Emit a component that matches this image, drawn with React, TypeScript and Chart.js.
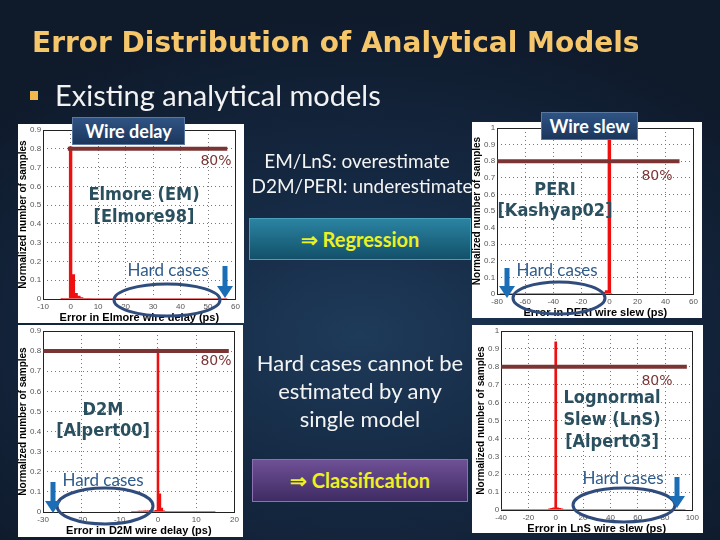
import React, { useEffect, useRef } from "react";
import Chart from "chart.js/auto";

// ---------- data ----------
// Elmore (EM) wire delay error histogram (ps, normalized)
const emBins = [-3, -2, -1, 0, 1, 2, 3, 4, 5, 6, 7];
const emValues = [0.002, 0.003, 0.004, 0.81, 0.13, 0.03, 0.015, 0.008, 0.004, 0.003, 0.002];
const emTail = [-3, 57];
const emLine80 = [-1, 57];

// PERI wire slew error histogram
const periBins = [-12, -10, -8, -6, -4, -2, 0];
const periValues = [0.002, 0.003, 0.004, 0.006, 0.01, 0.02, 0.93];
const periTail = [-78, 2];
const periLine80 = [-80, 50];

// D2M wire delay error histogram
const d2mBins = [-5, -4.5, -4, -3.5, -3, -2.5, -2, -1.5, -1, -0.5, 0, 0.5, 1, 1.5, 2];
const d2mValues = [0.004, 0.005, 0.005, 0.006, 0.006, 0.006, 0.007, 0.006, 0.006, 0.008, 0.81, 0.09, 0.02, 0.006, 0.003];
const d2mTail = [-7, 15];
const d2mLine80 = [-30, 18.5];

// Lognormal Slew (LnS) error histogram
const lnsBins = [-4.5, -3, -1.5, 0, 1.5, 3, 4.5];
const lnsValues = [0.006, 0.01, 0.012, 0.94, 0.012, 0.01, 0.006];
const lnsTail = [-40, 95];
const lnsLine80 = [-40, 96];

const threshold = 0.8;

// ---------- chart ----------
type PlotProps = {
  left: number; top: number; width: number; height: number;
  bins: number[]; values: number[]; tail: number[]; line80: number[];
  xMin: number; xMax: number; xStep: number; yMax: number;
  xTitle: string; pad: { left: number; right: number; top: number; bottom: number };
};

const framePlugin = {
  id: "frame",
  beforeDatasetsDraw(chart: any) {
    const { ctx, chartArea: a } = chart;
    ctx.save();
    ctx.strokeStyle = "#222";
    ctx.lineWidth = 1;
    ctx.strokeRect(Math.round(a.left) + 0.5, Math.round(a.top) + 0.5, Math.round(a.right - a.left), Math.round(a.bottom - a.top));
    ctx.restore();
  },
};

function fmt(v: number) {
  return String(Number(v.toFixed(1)));
}

function Plot(p: PlotProps) {
  const ref = useRef<HTMLCanvasElement>(null);
  useEffect(() => {
    const tickFont = { family: "Liberation Sans, Arial, sans-serif", size: 8, lineHeight: 1 };
    const titleFont = { family: "Liberation Sans, Arial, sans-serif", size: 11, weight: "bold" as const, lineHeight: 1 };
    const chart = new Chart(ref.current!, {
      type: "bar",
      data: {
        datasets: [
          {
            type: "line",
            data: p.line80.map((x) => ({ x, y: threshold })),
            borderColor: "#7b3434",
            borderWidth: 4,
            pointRadius: 0,
            order: 0,
          } as any,
          {
            type: "line",
            data: p.tail.map((x) => ({ x, y: 0.002 })),
            borderColor: "#e07070",
            borderWidth: 1,
            pointRadius: 0,
            order: 1,
          } as any,
          {
            type: "bar",
            data: p.bins.map((x, i) => ({ x, y: p.values[i] })),
            backgroundColor: "#ee1010",
            barPercentage: 1,
            categoryPercentage: 1,
            order: 2,
          } as any,
        ],
      },
      options: {
        animation: false,
        responsive: false,
        maintainAspectRatio: false,
        layout: { padding: p.pad },
        plugins: { legend: { display: false }, tooltip: { enabled: false } },
        scales: {
          x: {
            type: "linear",
            offset: false,
            min: p.xMin,
            max: p.xMax,
            ticks: { stepSize: p.xStep, font: tickFont, color: "#555", maxRotation: 0, autoSkip: false, padding: 4, callback: (v: any) => fmt(v) },
            grid: { color: "#777", drawTicks: false, offset: false },
            border: { display: false, dash: [1, 3] },
            title: { display: true, text: p.xTitle, font: titleFont, color: "#000", padding: { top: -3, bottom: 0 } },
          },
          y: {
            min: 0,
            max: p.yMax,
            ticks: { stepSize: 0.1, font: tickFont, color: "#555", padding: 2, callback: (v: any) => fmt(v) },
            grid: { color: "#777", drawTicks: false },
            border: { display: false, dash: [1, 3] },
            title: { display: true, text: "Normalized number of samples", font: { ...titleFont, size: 10 }, color: "#000", padding: { top: 0, bottom: 0 } },
          },
        },
      },
      plugins: [framePlugin],
    });
    return () => chart.destroy();
  }, []);
  return (
    <div style={{ position: "absolute", left: p.left, top: p.top, width: p.width, height: p.height, background: "#fff" }}>
      <canvas ref={ref} width={p.width} height={p.height} style={{ display: "block" }} />
    </div>
  );
}

// ---------- text helpers ----------
const LATO = "Lato, 'Open Sans', sans-serif";
const COND = "'DejaVu Sans Condensed', 'DejaVu Sans', sans-serif";

function T(props: { cx?: number; x?: number; cy: number; text: string; size: number; color: string; weight?: any; family?: string }) {
  const w = 400;
  const left = props.cx !== undefined ? props.cx - w / 2 : props.x!;
  return (
    <div
      style={{
        position: "absolute",
        left,
        top: props.cy - props.size * 0.6,
        width: props.cx !== undefined ? w : undefined,
        textAlign: props.cx !== undefined ? "center" : "left",
        whiteSpace: "nowrap",
        fontSize: props.size,
        lineHeight: props.size * 1.2 + "px",
        color: props.color,
        fontWeight: props.weight || "normal",
        fontFamily: props.family || LATO,
      }}
    >
      {props.text}
    </div>
  );
}

function Box(props: { left: number; top: number; w: number; h: number; bg: string; border: string; children: any }) {
  return (
    <div
      style={{
        position: "absolute", left: props.left, top: props.top, width: props.w, height: props.h,
        background: props.bg, border: "1px solid " + props.border, boxSizing: "border-box",
        display: "flex", alignItems: "center", justifyContent: "center",
      }}
    >
      {props.children}
    </div>
  );
}

const HARD = "#2e5b8c";
const TEAL = "#2a4f5e";
const BROWN = "#7b3434";

function Arrow({ x, y1, y2 }: { x: number; y1: number; y2: number }) {
  return (
    <g fill="#1b6db5">
      <rect x={x - 2.5} y={y1} width={5} height={y2 - y1 - 10} />
      <polygon points={`${x - 8},${y2 - 12} ${x + 8},${y2 - 12} ${x},${y2}`} />
    </g>
  );
}

export default function App() {
  return (
    <div
      style={{
        position: "fixed", left: 0, top: 0, width: 720, height: 540, overflow: "hidden",
        background: "radial-gradient(ellipse 70% 60% at 50% 62%, #1e3b5a 0%, #152943 45%, #0f1a2b 100%)",
        fontFamily: LATO,
      }}
    >
      <T x={32} cy={43} text="Error Distribution of Analytical Models" size={28} color="#f6c66b" weight="bold" family="'DejaVu Sans', sans-serif" />
      <div style={{ position: "absolute", left: 30, top: 91, width: 8, height: 9, background: "#f2b84c" }} />
      <T x={55} cy={95} text="Existing analytical models" size={29} color="#f2f2f2" />

      <Plot left={18} top={124} width={226} height={199} bins={emBins} values={emValues} tail={emTail} line80={emLine80}
        xMin={-10} xMax={60} xStep={10} yMax={0.9} xTitle="Error in Elmore wire delay (ps)" pad={{ left: 0, right: 0, top: 0, bottom: 0 }} />
      <Plot left={472} top={122} width={230} height={196} bins={periBins} values={periValues} tail={periTail} line80={periLine80}
        xMin={-80} xMax={60} xStep={20} yMax={1} xTitle="Error in PERI wire slew (ps)" pad={{ left: 0, right: 0, top: 6, bottom: 0 }} />
      <Plot left={18} top={325} width={225} height={212} bins={d2mBins} values={d2mValues} tail={d2mTail} line80={d2mLine80}
        xMin={-30} xMax={20} xStep={10} yMax={0.9} xTitle="Error in D2M wire delay (ps)" pad={{ left: 0, right: 5, top: 1, bottom: 1 }} />
      <Plot left={472} top={325} width={231} height={208} bins={lnsBins} values={lnsValues} tail={lnsTail} line80={lnsLine80}
        xMin={-40} xMax={100} xStep={20} yMax={1} xTitle="Error in LnS wire slew (ps)" pad={{ left: 4, right: 4, top: 3, bottom: -1 }} />

      <Box left={72} top={117} w={113} h={28} bg="linear-gradient(#2f5484, #1b365c)" border="#5a78a0">
        <span style={{ color: "#fff", fontWeight: "bold", fontSize: 18, fontFamily: LATO }}>Wire delay</span>
      </Box>
      <Box left={541} top={112} w={97} h={28} bg="linear-gradient(#2f5484, #1b365c)" border="#5a78a0">
        <span style={{ color: "#fff", fontWeight: "bold", fontSize: 18, fontFamily: LATO }}>Wire slew</span>
      </Box>

      <T cx={216} cy={160} text="80%" size={14} color={BROWN} family="'DejaVu Sans', sans-serif" />
      <T cx={657} cy={175} text="80%" size={14} color={BROWN} family="'DejaVu Sans', sans-serif" />
      <T cx={216} cy={360} text="80%" size={14} color={BROWN} family="'DejaVu Sans', sans-serif" />
      <T cx={657} cy={380} text="80%" size={14} color={BROWN} family="'DejaVu Sans', sans-serif" />

      <T cx={144} cy={194} text="Elmore (EM)" size={18} color={TEAL} weight="bold" family={COND} />
      <T cx={144} cy={216} text="[Elmore98]" size={18} color={TEAL} weight="bold" family={COND} />
      <T cx={555} cy={189} text="PERI" size={18} color={TEAL} weight="bold" family={COND} />
      <T cx={555} cy={210} text="[Kashyap02]" size={18} color={TEAL} weight="bold" family={COND} />
      <T cx={103} cy={409} text="D2M" size={18} color={TEAL} weight="bold" family={COND} />
      <T cx={103} cy={430} text="[Alpert00]" size={18} color={TEAL} weight="bold" family={COND} />
      <T cx={612} cy={397} text="Lognormal" size={18} color={TEAL} weight="bold" family={COND} />
      <T cx={612} cy={419} text="Slew (LnS)" size={18} color={TEAL} weight="bold" family={COND} />
      <T cx={612} cy={441} text="[Alpert03]" size={18} color={TEAL} weight="bold" family={COND} />

      <T cx={168} cy={270} text="Hard cases" size={17} color={HARD} />
      <T cx={557} cy={270} text="Hard cases" size={17} color={HARD} />
      <T cx={103} cy={480} text="Hard cases" size={17} color={HARD} />
      <T cx={623} cy={478} text="Hard cases" size={17} color={HARD} />

      <svg width={720} height={540} style={{ position: "absolute", left: 0, top: 0, pointerEvents: "none" }}>
        <g fill="none" stroke="#2f4c7c" strokeWidth={3}>
          <ellipse cx={167} cy={300} rx={53} ry={16} />
          <ellipse cx={559} cy={298} rx={46} ry={16} />
          <ellipse cx={105} cy={506} rx={48} ry={18} />
          <ellipse cx={624} cy={505} rx={51} ry={17} />
        </g>
        <Arrow x={225} y1={266} y2={298} />
        <Arrow x={507} y1={268} y2={298} />
        <Arrow x={53} y1={482} y2={513} />
        <Arrow x={677} y1={477} y2={508} />
      </svg>

      <T cx={357} cy={161} text="EM/LnS: overestimate" size={19} color="#f4f4f4" />
      <T cx={362} cy={186} text="D2M/PERI: underestimate" size={19} color="#f4f4f4" />
      <Box left={249} top={218} w={222} h={42} bg="linear-gradient(#2a84a2, #135069)" border="#4aa0bb">
        <span style={{ color: "#eef022", fontWeight: "bold", fontSize: 20, fontFamily: LATO }}>⇒ Regression</span>
      </Box>
      <T cx={360} cy={363} text="Hard cases cannot be" size={22} color="#f4f4f4" />
      <T cx={360} cy={391} text="estimated by any" size={22} color="#f4f4f4" />
      <T cx={360} cy={419} text="single model" size={22} color="#f4f4f4" />
      <Box left={252} top={459} w={216} h={43} bg="linear-gradient(#6f5096, #3f2b63)" border="#8c70b0">
        <span style={{ color: "#eef022", fontWeight: "bold", fontSize: 20, fontFamily: LATO }}>⇒ Classification</span>
      </Box>
    </div>
  );
}
